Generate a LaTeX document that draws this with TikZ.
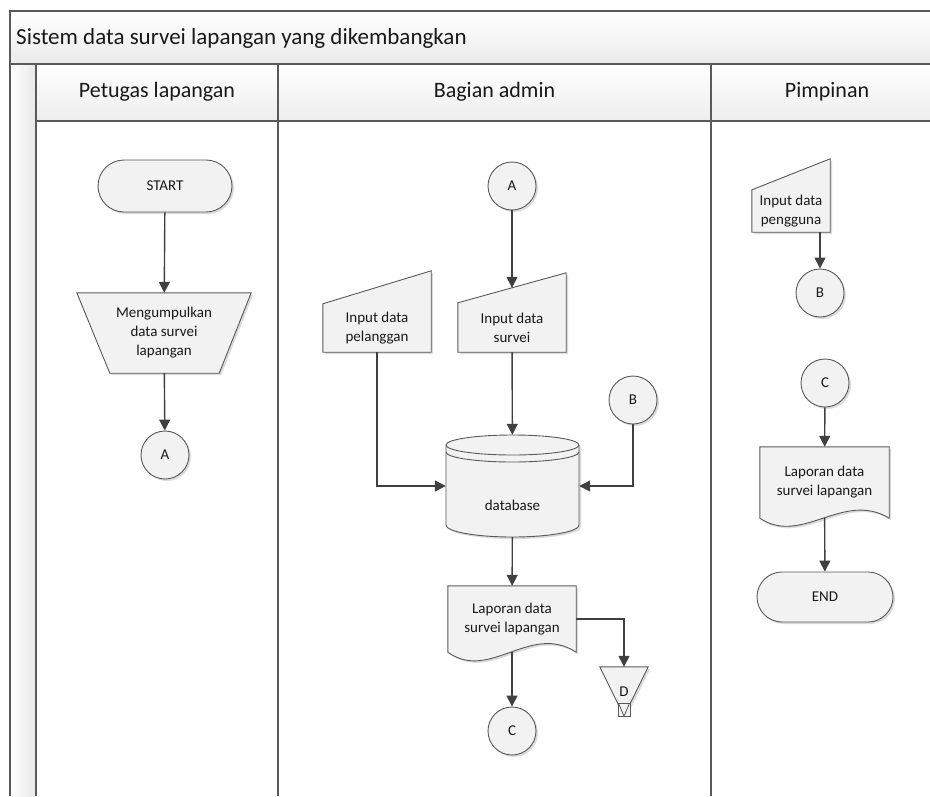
\documentclass[tikz,border=0pt]{standalone}
\usepackage{fontspec}
\setmainfont{Carlito}
\usetikzlibrary{shapes.misc,arrows.meta,calc,backgrounds}
\definecolor{ln}{HTML}{404040}
\definecolor{sh}{HTML}{595959}
\definecolor{fl}{HTML}{F2F2F2}
\definecolor{fr}{HTML}{5A5A5A}
\begin{document}
\begin{tikzpicture}[x=1pt,y=-1pt,
  every node/.style={font=\fontsize{15}{19}\selectfont, align=center, inner sep=0pt, text=black!90},
  shp/.style={draw=sh, line width=0.9pt, fill=fl, preaction={fill=black!14, transform canvas={shift={(2pt,-2pt)}}}},
  term/.style={shp, rounded rectangle, minimum width=134pt, minimum height=52pt},
  conn/.style={shp, circle, minimum size=48pt},
  flow/.style={draw=ln, line width=1.4pt, -{Triangle[width=11pt,length=11pt]}},
  frameline/.style={draw=fr, line width=1.6pt},
  laneline/.style={draw=fr, line width=1.2pt},
  hdr/.style={font=\fontsize{22}{26}\selectfont},
]
\useasboundingbox (0,0) rectangle (930,796);

% ---------- frame ----------
\shade[top color=white, bottom color=black!8] (10,11) rectangle (930,64);
\shade[top color=white, bottom color=black!7] (36,64) rectangle (930,121);
\shade[left color=white, right color=black!9] (10,64) rectangle (36,796);
\draw[frameline] (930,11) -- (10,11) -- (10,796);
\draw[frameline] (10,64) -- (930,64);
\draw[laneline] (36,121) -- (930,121);
\draw[laneline] (36,64) -- (36,796);
\draw[laneline] (278,64) -- (278,796);
\draw[laneline] (711,64) -- (711,796);

\node[hdr, font=\fontsize{23}{27}\selectfont, anchor=west] (title) at (16,38) {Sistem data survei lapangan yang dikembangkan};
\node[hdr] (lane1) at (157,92) {Petugas lapangan};
\node[hdr] (lane2) at (494.5,92) {Bagian admin};
\node[hdr] (lane3) at (827,92) {Pimpinan};

% ---------- lane 1 ----------
\node[term] (start) at (165,186) {START};
\node[minimum width=174pt, minimum height=80pt] (ms) at (164,333) {Mengumpulkan\\data survei\\lapangan};
\node[conn] (A1) at (165,455) {A};

% ---------- lane 2 ----------
\node[conn] (A2) at (512,186) {A};
\node[minimum width=108pt, minimum height=49pt] (ips) at (512,327.5) {Input data\\survei};
\node[minimum width=108pt, minimum height=48pt] (pel) at (377,328) {Input data\\pelanggan};
\node[conn] (B2) at (633,400) {B};
\node[minimum width=133pt, minimum height=102pt] (db) at (512.5,486) {};
\node (dblabel) at (512.5,505) {database};
\node[minimum width=128pt, minimum height=66pt] (doc1) at (512,619) {Laporan data\\survei lapangan};
\node[conn] (C2) at (512,731) {C};
\node[minimum width=48pt, minimum height=49pt] (dd) at (624,691.5) {D};

% ---------- lane 3 ----------
\node[minimum width=78pt, minimum height=42pt] (ipg) at (791,211) {Input data\\pengguna};
\node[conn] (B3) at (820,293) {B};
\node[conn] (C3) at (825,383) {C};
\node[minimum width=129pt, minimum height=71pt] (doc2) at (824.5,482.5) {Laporan data\\survei lapangan};
\node[term, minimum width=136pt, minimum height=50pt] (end) at (825,597) {END};

% ---------- custom outlines ----------
\begin{scope}[on background layer]
\path[shp] (ms.north west) -- (ms.north east) -- ($(ms.south east)+(-32,0)$) -- ($(ms.south west)+(33,0)$) -- cycle;
\path[shp] (ips.south west) -- (ips.north west) -- ($(ips.north east)+(0,-30)$) -- (ips.south east) -- cycle;
\path[shp] (pel.south west) -- (pel.north west) -- ($(pel.north east)+(0,-33)$) -- (pel.south east) -- cycle;
\path[shp] (ipg.south west) -- (ipg.north west) -- ($(ipg.north east)+(0,-31)$) -- (ipg.south east) -- cycle;
\path[shp] (doc1.south west) -- (doc1.north west) -- (doc1.north east) -- (doc1.south east)
   .. controls +(-46,-30) and +(42,30) .. (doc1.south west) -- cycle;
\path[shp] (doc2.south west) -- (doc2.north west) -- (doc2.north east) -- (doc2.south east)
   .. controls +(-46,-28) and +(42,28) .. (doc2.south west) -- cycle;
\path[shp] (dd.north west) -- (dd.north east) -- (dd.south) -- cycle;
\path[draw=sh, line width=0.8pt, fill=fl] ($(dd.south)+(-6,0)$) rectangle ($(dd.south)+(6,-13)$);
\draw[sh, line width=0.8pt] ($(dd.south)+(-5.5,-13)$) -- (dd.south) -- ($(dd.south)+(5.5,-13)$);
% database cylinder
\path[shp] (446,445) -- (446,525) arc[start angle=180, end angle=360, x radius=66.5pt, y radius=12pt]
   -- (579,445) arc[start angle=0, end angle=180, x radius=66.5pt, y radius=10pt] -- cycle;
\draw[sh, line width=0.9pt] (446,445) arc[start angle=180, end angle=360, x radius=66.5pt, y radius=10pt];
\draw[sh, line width=0.9pt] (446,452) arc[start angle=180, end angle=360, x radius=66.5pt, y radius=10pt];
\end{scope}

% ---------- connectors ----------
\draw[flow] (start) -- (ms);
\draw[flow] (ms) -- (A1);
\draw[flow] (A2) -- ($(ips.north)+(0,-15)$);
\draw[flow] (ips) -- (db);
\draw[flow] (pel.south) |- (db.west);
\draw[flow] (B2.south) |- (db.east);
\draw[flow] (db) -- (doc1);
\draw[flow] (doc1) -- (C2);
\draw[flow] (doc1.east) -| (dd.north);
\draw[flow] (ipg.south -| B3.north) -- (B3.north);
\draw[flow] (C3) -- (doc2);
\draw[flow] (doc2) -- (end);
\end{tikzpicture}
\end{document}
